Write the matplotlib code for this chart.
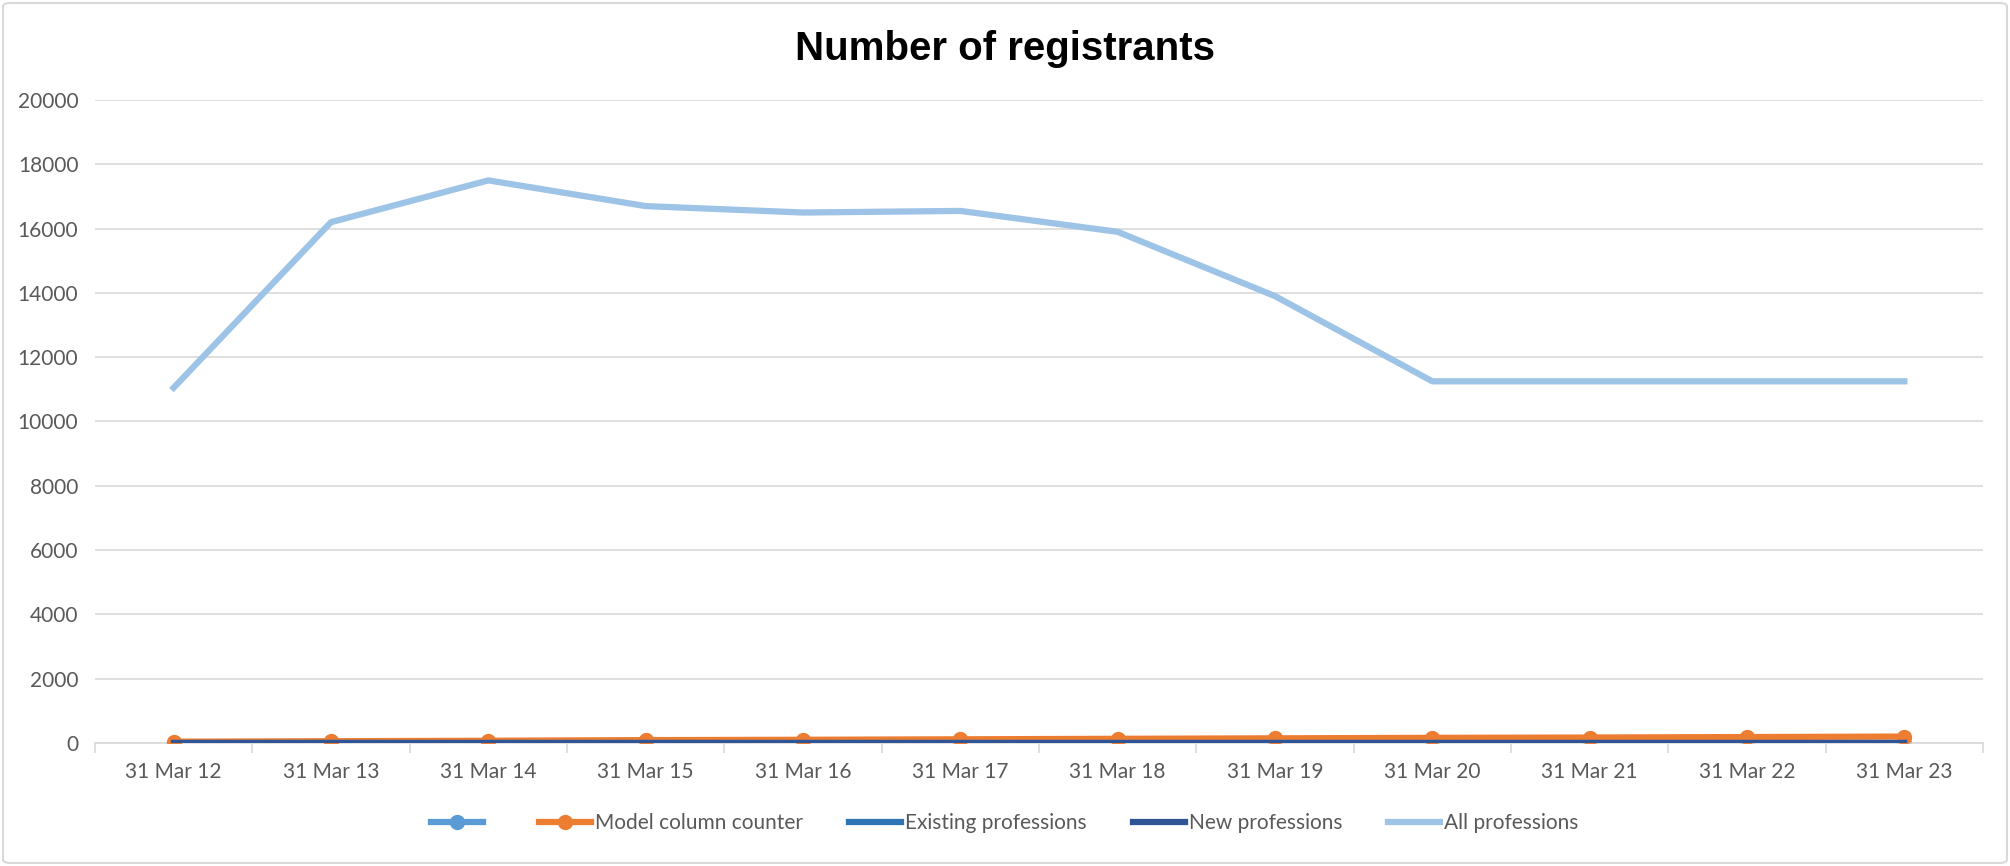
import numpy as np
import matplotlib.pyplot as plt
from matplotlib.patches import FancyBboxPatch

# data
years = ['31 Mar 12', '31 Mar 13', '31 Mar 14', '31 Mar 15', '31 Mar 16', '31 Mar 17',
         '31 Mar 18', '31 Mar 19', '31 Mar 20', '31 Mar 21', '31 Mar 22', '31 Mar 23']
blank_series = [0, 0, 0, 0, 0, 0, 0, 0, 0, 0, 0, 0]
model_counter = [40, 55, 70, 90, 100, 115, 130, 145, 160, 170, 185, 200]
existing = [10, 10, 10, 10, 10, 10, 10, 10, 10, 10, 10, 10]
new_prof = [0, 0, 0, 0, 0, 0, 0, 0, 0, 0, 0, 0]
all_prof = [11050, 16200, 17500, 16700, 16500, 16550, 15900, 13900, 11250, 11250, 11250, 11250]

plt.rcParams['font.family'] = ['Lato', 'DejaVu Sans']

fig = plt.figure(figsize=(20.1, 8.66), dpi=100)
ax = fig.add_axes([95 / 2010, 1 - 743 / 866, (1983 - 95) / 2010, (743 - 100) / 866])

x = np.arange(len(years))
lw = 4.5
ax.plot(x, blank_series, color='#5B9BD5', lw=lw, marker='o', ms=10, label=' ', zorder=2)
ax.plot(x, model_counter, color='#ED7D31', lw=lw, marker='o', ms=10,
        label='Model column counter', zorder=3)
ax.plot(x, existing, color='#2E75B6', lw=lw, label='Existing professions', zorder=4)
ax.plot(x, new_prof, color='#2F5597', lw=lw, label='New professions', zorder=5)
ax.plot(x, all_prof, color='#9DC3E6', lw=lw, label='All professions', zorder=6)

ax.set_xlim(-0.5, len(years) - 0.5)
ax.set_ylim(0, 20000)
ax.set_yticks(np.arange(0, 20001, 2000))
ax.set_xticks(x)
ax.set_xticklabels(years)
ax.set_xticks(np.arange(-0.5, len(years), 1), minor=True)
ax.tick_params(axis='x', which='major', length=0, pad=14, labelsize=15, labelcolor='#595959')
ax.tick_params(axis='x', which='minor', length=7, color='#D9D9D9', width=1.2)
ax.tick_params(axis='y', length=0, pad=12, labelsize=15, labelcolor='#595959')

ax.grid(axis='y', color='#D9D9D9', lw=1.2)
ax.set_axisbelow(True)
for s in ['top', 'right', 'left']:
    ax.spines[s].set_visible(False)
ax.spines['bottom'].set_color('#D9D9D9')
ax.spines['bottom'].set_linewidth(1.2)

fig.text(0.5, 1 - 49 / 866, 'Number of registrants', ha='center', va='center',
         fontsize=29, fontweight='bold', family=['Liberation Sans', 'DejaVu Sans'])

fig.legend(loc='center', bbox_to_anchor=(0.5, 1 - 823 / 866), ncol=5, frameon=False,
           fontsize=15, labelcolor='#595959', handlelength=2.5, columnspacing=2.2,
           handletextpad=0.2)

# chart border
fig.patches.append(FancyBboxPatch((3 / 2010, 3 / 866), 1 - 6 / 2010, 1 - 6 / 866,
                                  boxstyle='round,pad=0,rounding_size=0.004',
                                  transform=fig.transFigure, fill=False,
                                  edgecolor='#D9D9D9', lw=1.5))

fig.savefig('out.png', dpi=100)
